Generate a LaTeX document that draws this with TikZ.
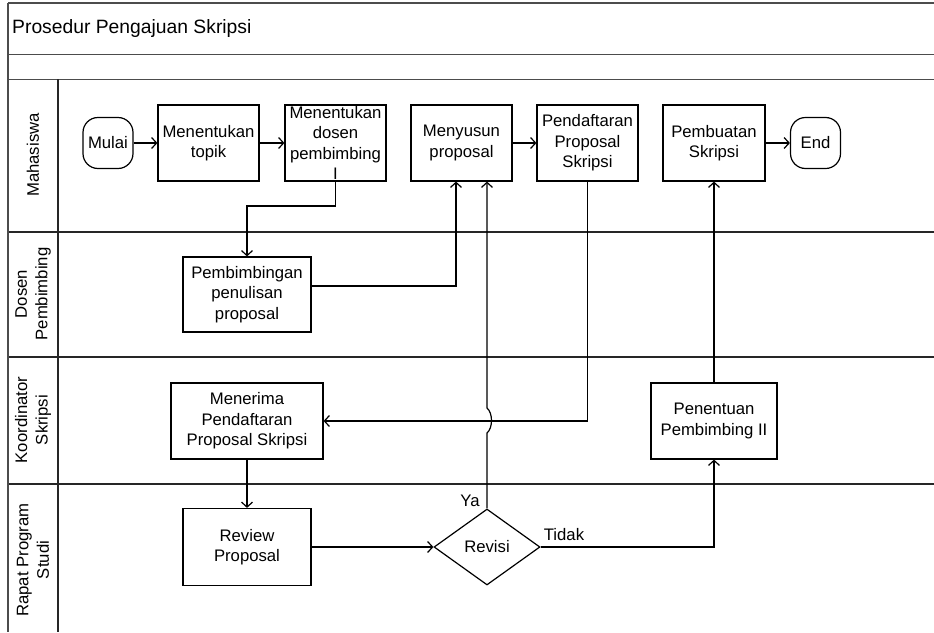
\documentclass[tikz,border=0pt]{standalone}
\usepackage{fontspec}
\setmainfont{Liberation Sans}
\usetikzlibrary{arrows.meta,shapes.geometric}
\newcommand\boxfont{\fontsize{16.7}{20.5}\selectfont}
\newcommand\titlefont{\fontsize{19.3}{22}\selectfont}
\begin{document}
\begin{tikzpicture}[x=1pt,y=-1pt,
  frame/.style={draw=black!70, line width=1pt},
  lane/.style={draw=black!85, line width=1.2pt},
  stepbox/.style n args={2}{draw=black, line width=1.2pt, minimum width=#1pt,
    minimum height=#2pt, inner sep=0pt, align=center, font=\boxfont},
  terminal/.style={draw=black, line width=1.2pt, rounded corners=15pt,
    minimum width=50pt, minimum height=51pt, inner sep=0pt, font=\boxfont},
  decision/.style={draw=black, line width=1.2pt, diamond, minimum width=106pt,
    minimum height=76pt, inner sep=0pt, font=\boxfont},
  lanelabel/.style={rotate=90, align=center, font=\boxfont},
  flow/.style={draw=black, line width=1.2pt,
    -{Straight Barb[length=5pt,width=11pt,line width=1.2pt]}},
  tag/.style={font=\boxfont, inner sep=0pt}]
\useasboundingbox (0,0) rectangle (934,632);

% pool frame and lanes
\draw[frame, line width=1.6pt] (8,3) -- (934,3);
\draw[frame] (8,54) -- (934,54);
\draw[frame] (8,79) -- (934,79);
\draw[lane] (8,232) -- (934,232);
\draw[lane] (8,357) -- (934,357);
\draw[lane] (8,484) -- (934,484);
\draw[frame, line width=1.4pt] (8,3) -- (8,632);
\draw[lane] (58,79) -- (58,632);

\node[anchor=west, font=\titlefont, inner sep=0pt] (title) at (12,29) {Prosedur Pengajuan Skripsi};

% lane labels
\node[lanelabel] (lmhs) at (33,155) {Mahasiswa};
\node[lanelabel] (ldsn) at (33,294) {Dosen\\Pembimbing};
\node[lanelabel] (lkrd) at (33,420) {Koordinator\\Skripsi};
\node[lanelabel] (lrps) at (33,560) {Rapat Program\\Studi};

% Mahasiswa
\node[terminal] (mulai) at (108,143) {Mulai};
\node[stepbox={101}{76}] (topik) at (208.5,143) {Menentukan\\topik};
\node[stepbox={101}{76}] (dosen) at (335.5,143) {Menentukan\\dosen\\pembimbing\\I};
\node[stepbox={101}{76}] (menyusun) at (461.5,143) {Menyusun\\proposal};
\node[stepbox={101}{76}] (pendaf) at (587.5,143) {Pendaftaran\\Proposal\\Skripsi};
\node[stepbox={102}{76}] (pembuatan) at (714,143) {Pembuatan\\Skripsi};
\node[terminal] (end) at (815.5,143) {End};

% Dosen Pembimbing
\node[stepbox={128}{75}] (pemb) at (247,294.5) {Pembimbingan\\penulisan\\proposal};

% Koordinator Skripsi
\node[stepbox={152}{76}] (menerima) at (247,421) {Menerima\\Pendaftaran\\Proposal Skripsi};
\node[stepbox={126}{76}] (penentuan) at (714,421) {Penentuan\\Pembimbing II};

% Rapat Program Studi
\node[stepbox={128}{77}] (review) at (247,547) {Review\\Proposal};
\node[decision] (revisi) at (487,547) {Revisi};

% connectors
\draw[flow] (mulai) -- (topik);
\draw[flow] (topik) -- (dosen);
\draw[flow] (dosen.south) |- (247,206) -- (pemb.north);
\draw[flow] (pemb.east |- 0,286) -| ([xshift=-5.5pt]menyusun.south);
\draw[flow] (menyusun) -- (pendaf);
\draw[flow] (pendaf.south) |- (menerima.east);
\draw[flow] (pembuatan) -- (end);
\draw[flow] (menerima) -- (review);
\draw[flow] (review.east) -- (revisi.west);
\draw[flow] (revisi.east) -| (penentuan.south);
\draw[flow] (penentuan) -- (pembuatan);
\draw[flow] (revisi.north) -- (revisi.north |- 0,433)
  .. controls +(6,-5) and +(6,5) .. (revisi.north |- 0,408)
  -- ([xshift=25.5pt]menyusun.south);

\node[tag] (ya) at (470,501) {Ya};
\node[tag] (tidak) at (564,535) {Tidak};
\end{tikzpicture}
\end{document}
